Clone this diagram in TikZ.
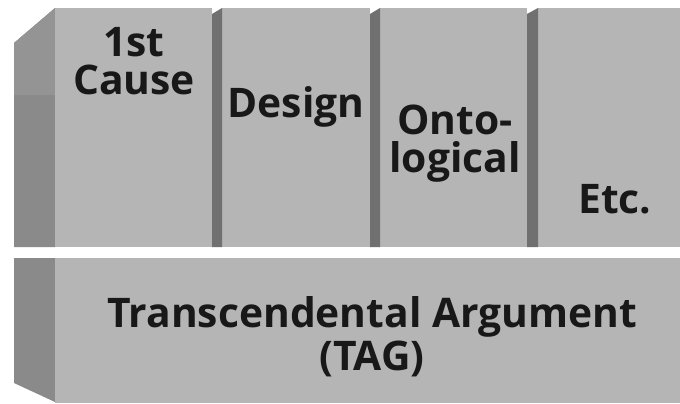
\documentclass[tikz,border=0pt]{standalone}
\usepackage{fontspec}
\setmainfont{Open Sans}
\definecolor{facegray}{RGB}{181,181,181}
\definecolor{sidegray}{RGB}{138,138,138}
\definecolor{sidelight}{RGB}{148,148,148}
\definecolor{stripgray}{RGB}{112,112,112}
\definecolor{inkgray}{RGB}{24,24,24}
\tikzstyle{face} = [fill=facegray, draw=none]
\tikzstyle{side} = [fill=sidegray, draw=none]
\tikzstyle{strip} = [fill=stripgray, draw=none]
\tikzstyle{lbl} = [font=\fontsize{29}{27}\selectfont\bfseries, text=inkgray, align=center, inner sep=0pt]

\begin{document}
\begin{tikzpicture}[x=0.025cm, y=-0.025cm]
\useasboundingbox (0,0) rectangle (680,403);
\fill[white] (0,0) rectangle (680,403);
%Top row
\fill[side] (14,43) -- (55,8) -- (55,247) -- (14,247) -- cycle;
\fill[sidelight] (14,43) -- (55,8) -- (55,95) -- (14,95) -- cycle;
\foreach \l/\r in {55/212, 222/370, 380/527, 538/680}
  \fill[face] (\l,8) rectangle (\r,247);
\foreach \a/\b in {212/222, 370/380, 527/538}
  \fill[strip] (\a,14) -- (\b,8) -- (\b,247) -- (\a,247) -- cycle;
\node[lbl, anchor=north] (cause) at (134,27) {1st\\Cause};
\node[lbl, anchor=north] (design) at (296,86) {Design};
\node[lbl, anchor=north] (onto) at (455,105) {Onto-\\logical};
\node[lbl, anchor=north] (etc) at (615,184) {Etc.};
%Bottom block
\fill[side] (14,258) -- (55,258) -- (55,402) -- (14,383) -- cycle;
\fill[face] (55,258) rectangle (680,403);
\node[lbl, anchor=north, font=\fontsize{29}{31}\selectfont\bfseries] (tag) at (372,296) {Transcendental Argument\\(TAG)};
\end{tikzpicture}
\end{document}
